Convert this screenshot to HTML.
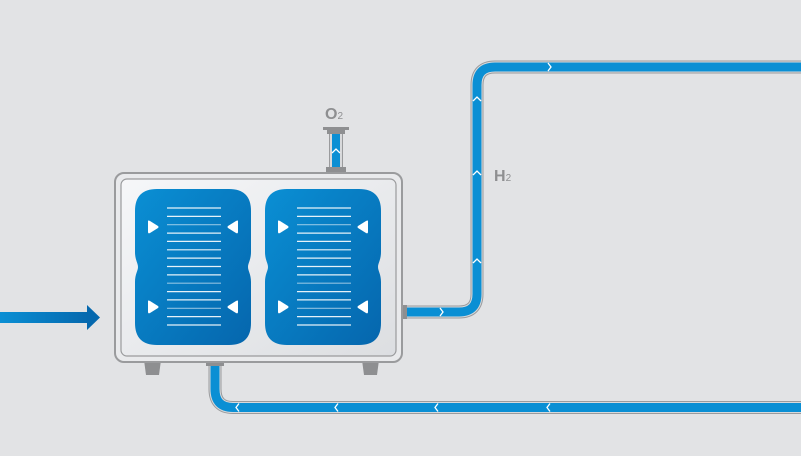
<!DOCTYPE html>
<html><head><meta charset="utf-8"><style>
html,body{margin:0;padding:0;background:#e2e3e5;}
svg{display:block;}
text{font-family:"Liberation Sans",sans-serif;font-weight:bold;fill:#8e8f91;}
</style></head><body>
<svg width="801" height="456" viewBox="0 0 801 456" xmlns="http://www.w3.org/2000/svg">
<defs>
<linearGradient id="pg" x1="0" y1="0" x2="1" y2="1">
<stop offset="0" stop-color="#0a8fd4"/><stop offset="1" stop-color="#0566ad"/>
</linearGradient>
<linearGradient id="ag" x1="0" y1="0" x2="1" y2="0">
<stop offset="0" stop-color="#0a8fd4"/><stop offset="1" stop-color="#0568ae"/>
</linearGradient>
<linearGradient id="bg" x1="0" y1="0" x2="1" y2="1">
<stop offset="0" stop-color="#f6f7f9"/><stop offset="1" stop-color="#dcdee1"/>
</linearGradient>
</defs>
<rect width="801" height="456" fill="#e2e3e5"/>
<rect x="0" y="312" width="89" height="11" fill="url(#ag)"/>
<polygon points="87,305 100,317.5 87,330" fill="#0568ae"/>
<path d="M402,312 H459 Q477,312 477,294 V85 Q477,67 495,67 H801" fill="none" stroke="#9a9b9d" stroke-width="13"/>
<path d="M402,312 H459 Q477,312 477,294 V85 Q477,67 495,67 H801" fill="none" stroke="#d8d9db" stroke-width="11"/>
<path d="M402,312 H459 Q477,312 477,294 V85 Q477,67 495,67 H801" fill="none" stroke="#0a8fd4" stroke-width="9"/>
<path d="M215,362 V389 Q215,407.5 233,407.5 H801" fill="none" stroke="#9a9b9d" stroke-width="13"/>
<path d="M215,362 V389 Q215,407.5 233,407.5 H801" fill="none" stroke="#d8d9db" stroke-width="11"/>
<path d="M215,362 V389 Q215,407.5 233,407.5 H801" fill="none" stroke="#0a8fd4" stroke-width="9"/>
<rect x="329" y="133" width="14" height="40" fill="#9a9b9d"/>
<rect x="330" y="133" width="12" height="40" fill="#d8d9db"/>
<rect x="332" y="133" width="8" height="40" fill="#0a8fd4"/>
<rect x="323" y="127" width="26" height="3" fill="#8e8f91"/>
<rect x="327" y="130" width="18" height="4" fill="#8e8f91"/>
<rect x="326" y="167" width="20" height="6" fill="#8e8f91"/>
<text x="325" y="119" font-size="16">O<tspan font-size="10" font-weight="normal">2</tspan></text>
<text x="494" y="181" font-size="16">H<tspan font-size="10" font-weight="normal">2</tspan></text>
<g fill="none" stroke="#fff" stroke-width="1.3">
<polyline points="548,63 551,67 548,71"/>
<polyline points="440,308 443,312 440,316"/>
<polyline points="473,101 477,97 481,101"/>
<polyline points="473,175 477,171 481,175"/>
<polyline points="473,263 477,259 481,263"/>
<polyline points="332,153 336,149 340,153"/>
<polyline points="239,403.5 236,407.5 239,411.5"/>
<polyline points="338,403.5 335,407.5 338,411.5"/>
<polyline points="438,403.5 435,407.5 438,411.5"/>
<polyline points="550,403.5 547,407.5 550,411.5"/>
</g>
<path d="M144,360 H161 L159,375 H146 Z" fill="#8e8f91"/>
<path d="M362,360 H379 L377,375 H364 Z" fill="#8e8f91"/>
<rect x="206" y="361" width="18" height="5" fill="#8e8f91"/>
<rect x="401" y="305" width="6" height="14" fill="#8e8f91"/>
<rect x="115" y="173" width="287" height="189" rx="9" fill="#e9eaec" stroke="#9a9b9d" stroke-width="2"/>
<rect x="121" y="179" width="275" height="177" rx="6" fill="url(#bg)" stroke="#9a9b9d" stroke-width="1.2"/>
<g id="p1">
<path d="M157,189 H229 Q251,189 251,211 V252 C251,260 248,263 248,267 C248,271 251,274 251,282 V323 Q251,345 229,345 H157 Q135,345 135,323 V282 C135,274 138,271 138,267 C138,263 135,260 135,252 V211 Q135,189 157,189Z" fill="url(#pg)"/>
<g stroke="#fff" stroke-width="1.2" opacity="0.9">
<line x1="167" x2="221" y1="208" y2="208"/><line x1="167" x2="221" y1="216.4" y2="216.4"/><line x1="167" x2="221" y1="224.7" y2="224.7" opacity=".6"/><line x1="167" x2="221" y1="233.1" y2="233.1"/><line x1="167" x2="221" y1="241.4" y2="241.4"/><line x1="167" x2="221" y1="249.8" y2="249.8"/><line x1="167" x2="221" y1="258.1" y2="258.1"/><line x1="167" x2="221" y1="266.5" y2="266.5"/><line x1="167" x2="221" y1="274.9" y2="274.9"/><line x1="167" x2="221" y1="283.2" y2="283.2" opacity=".6"/><line x1="167" x2="221" y1="291.6" y2="291.6"/><line x1="167" x2="221" y1="299.9" y2="299.9"/><line x1="167" x2="221" y1="308.3" y2="308.3" opacity=".6"/><line x1="167" x2="221" y1="316.6" y2="316.6"/><line x1="167" x2="221" y1="325" y2="325"/>
</g>
<g fill="#fff">
<path d="M148,221 Q148,220 150,221 L158,226 Q159,227 158,228 L150,233 Q148,234 148,232Z"/>
<path d="M238,221 Q238,220 236,221 L228,226 Q227,227 228,228 L236,233 Q238,234 238,232Z"/>
<path d="M148,301 Q148,300 150,301 L158,306 Q159,307 158,308 L150,313 Q148,314 148,312Z"/>
<path d="M238,301 Q238,300 236,301 L228,306 Q227,307 228,308 L236,313 Q238,314 238,312Z"/>
</g>
</g>
<use href="#p1" x="130"/>
</svg>
</body></html>
